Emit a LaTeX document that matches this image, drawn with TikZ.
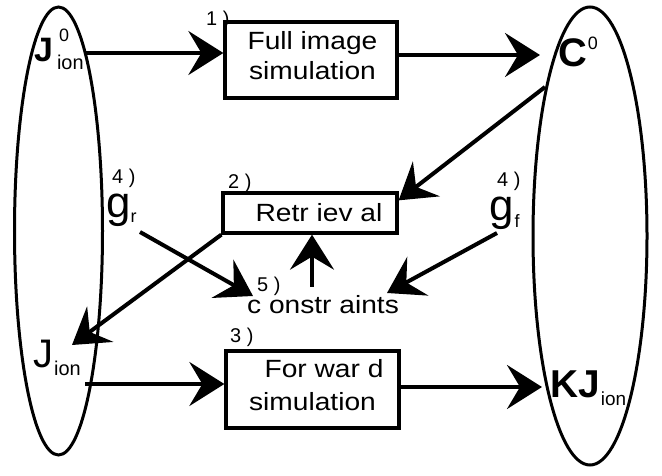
\documentclass[tikz,border=0pt]{standalone}
\usepackage{fontspec}
\setmainfont{Liberation Sans}
\newfontfamily\widefont[FakeStretch=1.13]{Liberation Sans}
\usetikzlibrary{arrows.meta,shapes.geometric,calc}

\begin{document}
\begin{tikzpicture}[x=1bp,y=-1bp,
  arr/.style={line width=4bp,-{Stealth[length=35bp,width=44bp,inset=13bp]}},
  blob/.style={draw,line width=3bp,ellipse,inner sep=0pt},
  stepbox/.style={draw,line width=3.3bp,rectangle,inner sep=0pt},
  boxtext/.style={font=\widefont\fontsize{25}{30}\selectfont,anchor=base,inner sep=0pt},
  num/.style={font=\fontsize{20}{20}\selectfont,anchor=base west,inner sep=0pt},
  sym/.style={anchor=base west,inner sep=0pt}]

\useasboundingbox (0,0) rectangle (662,476);

% the two sets
\node[blob,minimum width=88bp,minimum height=448bp] (L) at (58.5,231) {};
\node[blob,minimum width=114bp,minimum height=458bp] (R) at (590,236) {};

% processing steps
\node[stepbox,minimum width=172bp,minimum height=76bp] (b1) at (311,60) {};
\node[stepbox,minimum width=174bp,minimum height=40bp] (b2) at (310,213) {};
\node[stepbox,minimum width=173bp,minimum height=77bp] (b3) at (312.5,389.5) {};

\node[boxtext] (t1a) at (312.5,50) {Full image};
\node[boxtext] (t1b) at (312.5,80) {simulation};
\node[boxtext] (t2) at (319,222) {Retr iev al};
\node[boxtext] (t3a) at (324,377) {For war d};
\node[boxtext] (t3b) at (312.5,410) {simulation};
\node[boxtext] (cons) at (323,314) {c onstr aints};

% step numbers
\node[num] (n1) at (206,26) {1 )};
\node[num] (n2) at (228,189) {2 )};
\node[num] (n3) at (230,342) {3 )};
\node[num] (n4r) at (112,184) {4 )};
\node[num] (n4f) at (497,187) {4 )};
\node[num] (n5) at (257,292) {5 )};

% quantities
\node[sym] (J0) at (34,62) {\fontsize{34}{34}\bfseries J\rlap{\hspace{6bp}\raisebox{20bp}{\fontsize{18}{18}\mdseries 0}}\hspace{4bp}\raisebox{-8bp}{\fontsize{20}{20}\mdseries ion}};
\node[sym] (C0) at (558,67) {\fontsize{40}{40}\bfseries C\hspace{1bp}\raisebox{17bp}{\fontsize{18}{18}\mdseries 0}};
\node[sym] (Jion) at (33,367) {\fontsize{40}{40}\selectfont J\hspace{1bp}\raisebox{-8bp}{\fontsize{20}{20}\selectfont ion}};
\node[sym] (KJ) at (550,397) {\fontsize{39}{39}\bfseries KJ\hspace{1bp}\raisebox{-8bp}{\fontsize{19}{19}\mdseries ion}};
\node[sym] (gr) at (106,218) {\fontsize{44}{44}\selectfont g\raisebox{-5bp}{\fontsize{18}{18}\selectfont r}};
\node[sym] (gf) at (489,221) {\fontsize{44}{44}\selectfont g\hspace{1bp}\raisebox{-7bp}{\fontsize{18}{18}\selectfont f}};

% connector ends
\coordinate (p1) at (85,53);
\coordinate (p2) at (540,55);
\coordinate (p3) at (545,87);
\coordinate (q4) at (72,345);
\coordinate (p5) at (140,232);
\coordinate (q5) at (253,296);
\coordinate (p6) at (312,287);
\coordinate (p7) at (497,233);
\coordinate (q7) at (387,293);
\coordinate (p8) at (85,384);
\coordinate (q9) at (542,387);

\draw[arr] (p1) -- (p1 -| b1.west);
\draw[arr] (p2 -| b1.east) -- (p2);
\draw[arr] (p3) -- ($(b2.north east)+(0,9)$);
\draw[arr] (b2.south west) -- (q4);
\draw[arr] (p5) -- (q5);
\draw[arr] (p6) -- (p6 |- b2.south);
\draw[arr] (p7) -- (q7);
\draw[arr] (p8) -- (p8 -| b3.west);
\draw[arr] (q9 -| b3.east) -- (q9);
\end{tikzpicture}
\end{document}
